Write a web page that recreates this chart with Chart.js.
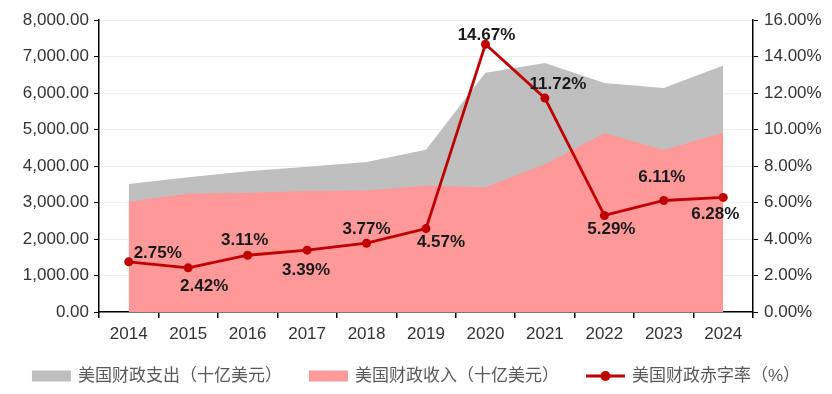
<!DOCTYPE html>
<html>
<head>
<meta charset="utf-8">
<script src="https://cdn.jsdelivr.net/npm/chart.js@4"></script>
<style>
  html, body { margin: 0; padding: 0; background: #fff; }
  #wrap { width: 832px; height: 394px; position: relative; }
</style>
</head>
<body>
<div id="wrap"><canvas id="chart"></canvas></div>
<script>
const years = ['2014', '2015', '2016', '2017', '2018', '2019', '2020', '2021', '2022', '2023', '2024'];
const spending = [3506, 3692, 3853, 3982, 4109, 4447, 6552, 6822, 6273, 6135, 6752];   // 美国财政支出
const revenue = [3021, 3249, 3267, 3316, 3330, 3463, 3421, 4047, 4897, 4439, 4919];    // 美国财政收入
const deficitRate = [2.75, 2.42, 3.11, 3.39, 3.77, 4.57, 14.67, 11.72, 5.29, 6.11, 6.28]; // 赤字率 %
const leftTicks = [0, 1000, 2000, 3000, 4000, 5000, 6000, 7000, 8000];
const rightTicks = [0, 2, 4, 6, 8, 10, 12, 14, 16];

const grayColor = '#bfbfbf';
const pinkColor = '#ff9999';
const lineColor = '#c00000';
const fontFamily = '"Liberation Sans", Arial, "Noto Sans CJK SC", sans-serif';

// 数据标签（每个点的偏移位置）
const labelPlugin = {
  id: 'rateLabels',
  afterDatasetsDraw(chart, args, opts) {
    const meta = chart.getDatasetMeta(2);
    const ctx = chart.ctx;
    ctx.save();
    ctx.font = 'bold 17px ' + fontFamily;
    ctx.fillStyle = '#1a1a1a';
    ctx.textAlign = 'center';
    ctx.textBaseline = 'middle';
    meta.data.forEach((pt, i) => {
      const [dx, dy] = opts.offsets[i];
      ctx.fillText(deficitRate[i].toFixed(2) + '%', pt.x + dx, pt.y + dy);
    });
    ctx.restore();
  }
};

// 底部图例，自己画，间距好控制
const legendPlugin = {
  id: 'bottomLegend',
  afterDraw(chart, args, opts) {
    const ctx = chart.ctx;
    ctx.save();
    ctx.font = opts.fontSize + 'px ' + fontFamily;
    ctx.textBaseline = 'middle';
    const items = chart.data.datasets.map(ds => ({
      text: ds.label,
      color: ds.yAxisID === 'y1' ? ds.borderColor : ds.backgroundColor,
      isLine: ds.yAxisID === 'y1',
      w: ctx.measureText(ds.label).width
    }));
    const symW = 39, gapText = 7, gapItem = 27;
    let total = 0;
    items.forEach((it, i) => { total += symW + gapText + it.w + (i ? gapItem : 0); });
    let x = (chart.width - total) / 2;
    const y = opts.y;
    items.forEach((it, i) => {
      if (i) x += gapItem;
      if (it.isLine) {
        ctx.strokeStyle = it.color;
        ctx.lineWidth = 3;
        ctx.beginPath(); ctx.moveTo(x, y); ctx.lineTo(x + symW, y); ctx.stroke();
        ctx.fillStyle = it.color;
        ctx.beginPath(); ctx.arc(x + symW / 2, y, 5, 0, Math.PI * 2); ctx.fill();
      } else {
        ctx.fillStyle = it.color;
        ctx.fillRect(x, y - 5.5, symW, 11);
      }
      x += symW + gapText;
      ctx.fillStyle = '#595959';
      ctx.fillText(it.text, x, y);
      x += it.w;
    });
    ctx.restore();
  }
};

const fixedTicks = (vals) => (scale) => { scale.ticks = vals.map(v => ({ value: v })); };

new Chart(document.getElementById('chart'), {
  type: 'line',
  data: {
    labels: years,
    datasets: [
      {
        label: '美国财政支出（十亿美元）',
        data: spending,
        yAxisID: 'y',
        backgroundColor: grayColor,
        borderWidth: 0,
        pointRadius: 0,
        fill: 'origin',
        order: 3
      },
      {
        label: '美国财政收入（十亿美元）',
        data: revenue,
        yAxisID: 'y',
        backgroundColor: pinkColor,
        borderWidth: 0,
        pointRadius: 0,
        fill: 'origin',
        order: 2
      },
      {
        label: '美国财政赤字率（%）',
        data: deficitRate,
        yAxisID: 'y1',
        borderColor: lineColor,
        backgroundColor: lineColor,
        borderWidth: 2.8,
        pointRadius: 4.5,
        pointBackgroundColor: lineColor,
        pointBorderWidth: 0,
        fill: false,
        order: 1
      }
    ]
  },
  options: {
    responsive: true,
    maintainAspectRatio: false,
    animation: false,
    layout: { padding: { top: 20, left: 0, right: 0, bottom: 36 } },
    plugins: {
      tooltip: { enabled: false },
      legend: { display: false },
      bottomLegend: { y: 376, fontSize: 17 },
      rateLabels: {
        offsets: [[29, -9], [16, 18], [-3, -15], [-1, 20], [0, -14], [15, 14], [1, -9], [13, -14], [7, 14], [-2, -23], [-8, 17]]
      }
    },
    scales: {
      x: {
        offset: true,
        grid: { display: true, drawOnChartArea: false, offset: true, tickLength: 6, tickColor: '#000', lineWidth: 1.5 },
        border: { display: true, color: '#000', width: 1.5 },
        ticks: { color: '#333', font: { family: fontFamily, size: 17 }, padding: 6, maxRotation: 0 },
        afterFit(s) { s.height = 46; }
      },
      y: {
        position: 'left',
        min: 0, max: 8000,
        afterBuildTicks: fixedTicks(leftTicks),
        grid: { color: '#efefef', lineWidth: 1, tickLength: 5, tickColor: '#000' },
        border: { display: true, color: '#000', width: 1.5 },
        ticks: {
          color: '#333', font: { family: fontFamily, size: 17 }, padding: 5,
          callback: v => v.toLocaleString('en-US', { minimumFractionDigits: 2, maximumFractionDigits: 2 })
        },
        afterFit(s) { s.width = 99; }
      },
      y1: {
        position: 'right',
        min: 0, max: 16,
        afterBuildTicks: fixedTicks(rightTicks),
        grid: { drawOnChartArea: false, tickLength: 5, tickColor: '#000' },
        border: { display: true, color: '#000', width: 1.5 },
        ticks: {
          color: '#333', font: { family: fontFamily, size: 17 }, padding: 6,
          callback: v => v.toFixed(2) + '%'
        },
        afterFit(s) { s.width = 79; }
      }
    }
  },
  plugins: [labelPlugin, legendPlugin]
});
</script>
</body>
</html>
